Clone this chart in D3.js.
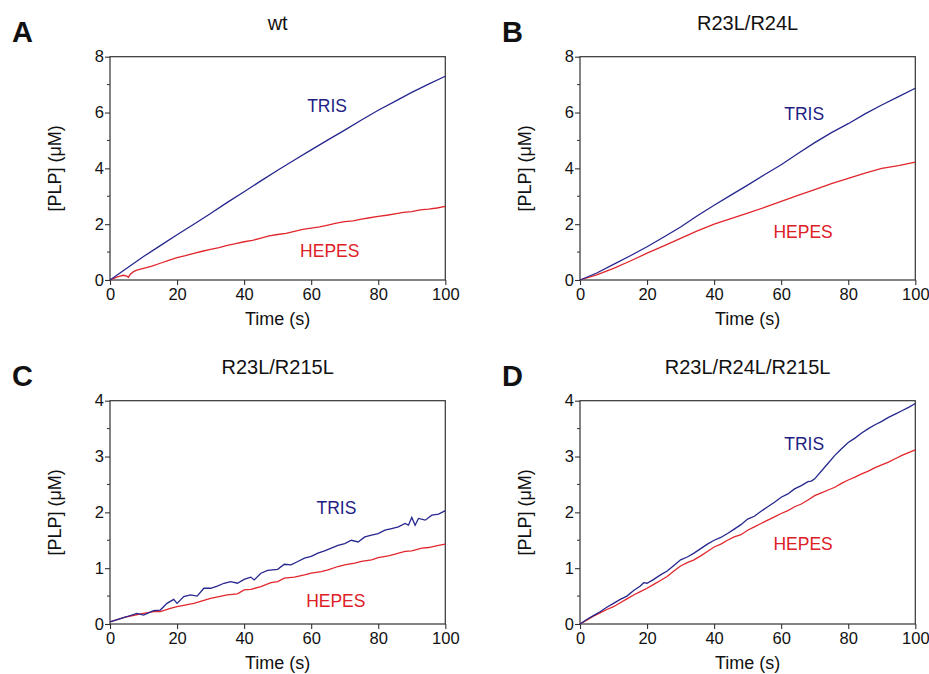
<!DOCTYPE html>
<html>
<head>
<meta charset="utf-8">
<script src="https://cdn.jsdelivr.net/npm/d3@7"></script>
<style>
  body { margin: 0; background: #fff; }
  svg text { font-family: "Liberation Sans", Arial, sans-serif; fill: #111; }
</style>
</head>
<body>
<svg id="chart" width="929" height="674"></svg>
<script>
// panel A: wt
var aTrisT = [0,5,10,15,20,25,30,35,40,45,50,55,60,65,70,75,80,85,90,95,100];
var aTris  = [0,0.42,0.84,1.23,1.62,2.0,2.38,2.78,3.16,3.55,3.93,4.3,4.66,5.02,5.37,5.73,6.08,6.4,6.72,7.02,7.3];
var aHepesT = [0,1,2,3,4,5,5.5,6,7,8,10,12.5,15,17.5,20,22.5,25,27.5,30,32.5,35,37.5,40,42.5,45,47.5,50,52.5,55,57.5,60,62.5,65,67.5,70,72.5,75,77.5,80,82.5,85,87.5,90,92.5,95,97.5,100];
var aHepes  = [0,0.05,0.1,0.14,0.17,0.14,0.1,0.2,0.3,0.35,0.42,0.5,0.6,0.7,0.8,0.87,0.95,1.03,1.1,1.16,1.24,1.3,1.37,1.42,1.5,1.58,1.63,1.67,1.74,1.81,1.86,1.9,1.97,2.04,2.09,2.12,2.18,2.23,2.28,2.32,2.37,2.42,2.45,2.51,2.54,2.58,2.64];

// panel B: R23L/R24L
var bTime  = [0,5,10,15,20,25,30,35,40,45,50,55,60,65,70,75,80,85,90,95,100];
var bTris  = [0,0.25,0.56,0.87,1.19,1.54,1.9,2.3,2.68,3.04,3.4,3.77,4.13,4.53,4.92,5.28,5.6,5.95,6.27,6.57,6.87];
var bHepes = [0,0.18,0.42,0.68,0.96,1.22,1.49,1.76,2.0,2.2,2.4,2.6,2.82,3.03,3.24,3.45,3.64,3.83,4.0,4.1,4.22];

// panel C: R23L/R215L
var cTrisT = [0,5,8,10,13,15,17,19,20,22,24,26,28,30,32,34,36,38,40,42,43,45,47,50,52,54,56,58,60,62,64,66,68,70,72,74,76,78,80,82,84,86,88,89,90,91,92,94,96,98,100];
var cTris  = [0.04,0.13,0.19,0.16,0.24,0.25,0.37,0.44,0.37,0.49,0.52,0.5,0.64,0.64,0.68,0.73,0.76,0.73,0.8,0.84,0.79,0.91,0.96,0.98,1.07,1.06,1.12,1.18,1.21,1.27,1.31,1.36,1.41,1.44,1.5,1.47,1.56,1.59,1.62,1.68,1.71,1.74,1.8,1.77,1.91,1.77,1.89,1.86,1.95,1.97,2.03];
var cHepesT = [0,5,10,13,15,18,20,25,30,35,38,40,42,45,48,50,52,55,58,60,63,65,68,70,73,75,78,80,83,85,88,90,93,95,98,100];
var cHepes  = [0.04,0.13,0.19,0.22,0.22,0.28,0.31,0.37,0.46,0.52,0.54,0.61,0.62,0.67,0.74,0.76,0.82,0.84,0.88,0.91,0.94,0.97,1.03,1.06,1.09,1.12,1.15,1.19,1.22,1.25,1.3,1.31,1.36,1.37,1.41,1.43];

// panel D: R23L/R24L/R215L
var dTrisT = [0,2,4,6,8,10,12,14,16,18,19,20,22,24,26,28,30,32,34,36,38,40,42,44,46,48,50,52,54,56,58,60,62,64,66,68,69,70,72,74,76,78,80,82,84,86,88,90,92,94,96,98,100];
var dTris  = [0,0.08,0.15,0.22,0.3,0.37,0.44,0.5,0.6,0.68,0.74,0.73,0.8,0.88,0.95,1.05,1.15,1.2,1.27,1.35,1.43,1.5,1.55,1.62,1.7,1.78,1.88,1.93,2.02,2.1,2.18,2.27,2.33,2.42,2.48,2.55,2.56,2.6,2.74,2.88,3.02,3.14,3.25,3.33,3.42,3.5,3.57,3.63,3.7,3.76,3.82,3.88,3.95];
var dHepesT = [0,2,4,6,8,10,12,14,16,18,20,22,24,26,28,30,32,34,36,38,40,42,44,46,48,50,52,54,56,58,60,62,64,66,68,70,72,74,76,78,80,82,84,86,88,90,92,94,96,98,100];
var dHepes  = [0,0.07,0.14,0.2,0.26,0.31,0.38,0.45,0.52,0.58,0.64,0.71,0.78,0.85,0.95,1.04,1.1,1.15,1.22,1.3,1.38,1.43,1.5,1.56,1.6,1.68,1.74,1.8,1.86,1.92,1.98,2.03,2.1,2.15,2.22,2.3,2.35,2.4,2.45,2.52,2.58,2.63,2.69,2.74,2.8,2.85,2.9,2.96,3.02,3.07,3.12];

var panelLetters = ["A","B","C","D"];
var panelTitles = ["wt","R23L/R24L","R23L/R215L","R23L/R24L/R215L"];
var yMax = [8,8,4,4];
var xTicks = [0,20,40,60,80,100];
var yTicksHigh = [0,2,4,6,8];
var yTicksLow = [0,1,2,3,4];
// label anchor in data units: [x, y] for TRIS then HEPES
var trisLabelPos = [[58.8,6.02],[60.9,5.73],[61.6,1.97],[60.9,3.12]];
var hepesLabelPos = [[56.7,0.82],[57.7,1.49],[58.5,0.31],[57.7,1.33]];

var blue = "#26268f";
var red = "#e1262c";

var panels = [
  {left:110, top:56.7, tris:[aTrisT,aTris], hepes:[aHepesT,aHepes], yt:yTicksHigh},
  {left:580, top:56.7, tris:[bTime,bTris], hepes:[bTime,bHepes], yt:yTicksHigh},
  {left:110, top:400.7, tris:[cTrisT,cTris], hepes:[cHepesT,cHepes], yt:yTicksLow},
  {left:580, top:400.7, tris:[dTrisT,dTris], hepes:[dHepesT,dHepes], yt:yTicksLow}
];

var W = 335.3, H = 223.3;
var svg = d3.select("#chart");

panels.forEach(function(p,i){
    var g = svg.append("g").attr("transform","translate("+p.left+","+p.top+")");
    var x = d3.scaleLinear().domain([0,100]).range([0,W]);
    var y = d3.scaleLinear().domain([0,yMax[i]]).range([H,0]);

    // minor y ticks at midpoints
    var step = p.yt[1]-p.yt[0];
    var minor = p.yt.slice(0,-1).map(function(v){ return v+step/2; });
    g.append("g").selectAll("line").data(minor).enter().append("line")
        .attr("x1",-3).attr("x2",0)
        .attr("y1",function(d){return y(d);}).attr("y2",function(d){return y(d);})
        .attr("stroke","#333").attr("stroke-width",1);

    var yAxis = g.append("g").call(d3.axisLeft(y).tickValues(p.yt).tickSize(5).tickPadding(1).tickFormat(d3.format("d")));
    var xAxis = g.append("g").attr("transform","translate(0,"+H+")")
        .call(d3.axisBottom(x).tickValues(xTicks).tickSize(5).tickPadding(3).tickFormat(d3.format("d")));
    [yAxis,xAxis].forEach(function(a){
        a.select(".domain").remove();
        a.selectAll(".tick line").attr("stroke","#333").attr("stroke-width",1.1);
        a.selectAll("text").attr("font-size","16.5px").attr("fill","#111")
            .attr("font-family","'Liberation Sans', Arial, sans-serif");
    });

    // frame
    g.append("rect").attr("width",W).attr("height",H)
        .attr("fill","none").attr("stroke","#333").attr("stroke-width",1.2);

    var line = d3.line().x(function(d){return x(d[0]);}).y(function(d){return y(d[1]);});
    g.append("path").datum(d3.zip(p.hepes[0],p.hepes[1])).attr("d",line)
        .attr("fill","none").attr("stroke",red).attr("stroke-width",1.3);
    g.append("path").datum(d3.zip(p.tris[0],p.tris[1])).attr("d",line)
        .attr("fill","none").attr("stroke",blue).attr("stroke-width",1.3);

    g.append("text").attr("x",x(trisLabelPos[i][0])).attr("y",y(trisLabelPos[i][1]))
        .attr("font-size","17.5px").style("fill","#1e1e84").text("TRIS");
    g.append("text").attr("x",x(hepesLabelPos[i][0])).attr("y",y(hepesLabelPos[i][1]))
        .attr("font-size","17.5px").style("fill","#dd2026").text("HEPES");

    // titles and axis labels
    g.append("text").attr("x",W/2).attr("y",-26.7).attr("text-anchor","middle")
        .attr("font-size","20px").text(panelTitles[i]);
    g.append("text").attr("x",W/2).attr("y",H+45).attr("text-anchor","middle")
        .attr("font-size","18px").text("Time (s)");
    g.append("text").attr("transform","translate(-49,"+(H/2)+") rotate(-90)")
        .attr("text-anchor","middle").attr("font-size","18px").text("[PLP] (\u03bcM)");
    g.append("text").attr("x",i%2===0 ? -98 : -78).attr("y",-15)
        .attr("font-size","29px").attr("font-weight","bold").text(panelLetters[i]);
});
</script>
</body>
</html>
